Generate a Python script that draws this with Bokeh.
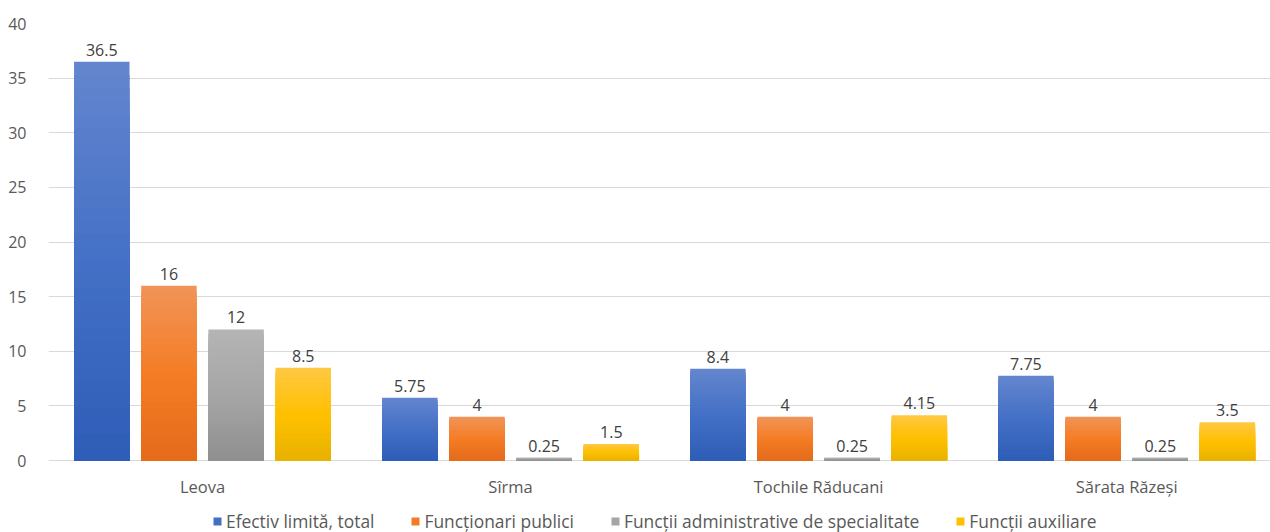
from bokeh.plotting import figure
from bokeh.models import ColumnDataSource, Range1d, FixedTicker, Legend, LegendItem, LabelSet
from bokeh.core.properties import value
from bokeh.embed import file_html
from bokeh.resources import INLINE

categories = ["Leova", "Sîrma", "Tochile Răducani", "Sărata Răzeși"]
series_names = ["Efectiv limită, total", "Funcționari publici",
                "Funcții administrative de specialitate", "Funcții auxiliare"]
efectiv = [36.5, 5.75, 8.4, 7.75]
functionari = [16, 4, 4, 4]
administrative = [12, 0.25, 0.25, 0.25]
auxiliare = [8.5, 1.5, 4.15, 3.5]
labels_text = [["36.5", "5.75", "8.4", "7.75"],
               ["16", "4", "4", "4"],
               ["12", "0.25", "0.25", "0.25"],
               ["8.5", "1.5", "4.15", "3.5"]]
y_ticks = [0, 5, 10, 15, 20, 25, 30, 35, 40]

series_values = [efectiv, functionari, administrative, auxiliare]
# gradient stops (top, middle, bottom) per series
grad_stops = [("#6486CE", "#4470C6", "#2E5DB7"),
              ("#F19459", "#F47D25", "#E46B1A"),
              ("#B4B4B4", "#A6A6A6", "#8F8F8F"),
              ("#FFC844", "#FFC000", "#E8B200")]
offsets = [-0.327, -0.109, 0.109, 0.327]
bar_w = 0.18
N_LEVELS = 30

FONT = "Open Sans"


def hex2rgb(h):
    h = h.lstrip("#")
    return [int(h[i:i + 2], 16) for i in (0, 2, 4)]


def mix(c1, c2, t):
    a, b = hex2rgb(c1), hex2rgb(c2)
    return "#%02x%02x%02x" % tuple(int(round(a[i] + (b[i] - a[i]) * t)) for i in range(3))


def grad_color(stops, frac):
    top, mid, bot = stops
    if frac >= 0.5:
        return mix(mid, top, (frac - 0.5) / 0.5)
    return mix(bot, mid, frac / 0.5)


# frame spans from y=23 px to the bottom of the page; value 0 sits at 460 px
px_per_unit = 437 / 40.0
y_bottom = -(532 - 460) / px_per_unit

p = figure(frame_width=1222, frame_height=509, width=1270, height=532,
           x_range=Range1d(-0.5, 3.467), y_range=Range1d(y_bottom, 40),
           output_backend="svg", toolbar_location=None, x_axis_location=None,
           min_border_left=48, min_border_right=0, min_border_top=23, min_border_bottom=0)
p.outline_line_color = None
p.background_fill_color = "white"

p.xgrid.grid_line_color = None
p.ygrid.grid_line_color = "#D9D9D9"
p.ygrid.ticker = FixedTicker(ticks=y_ticks)

items = []
mid_level = N_LEVELS // 2
for vals, stops, off, name, lab in zip(series_values, grad_stops,
                                       offsets, series_names, labels_text):
    xs = [i + off for i in range(len(categories))]
    # gradient: nested bars, tallest (lightest) first
    gx, gtop, gcol = [], [], []
    legend_index = 0
    for k in range(N_LEVELS, 0, -1):
        frac = (k - 0.5) / N_LEVELS
        c = grad_color(stops, frac)
        if k == mid_level:
            legend_index = len(gx)
        for x, v in zip(xs, vals):
            gx.append(x)
            gtop.append(v * k / N_LEVELS)
            gcol.append(c)
    r = p.vbar(x="x", top="top", width=bar_w, bottom=0,
               source=ColumnDataSource(dict(x=gx, top=gtop, c=gcol)),
               fill_color="c", line_color=None)
    items.append(LegendItem(label=name, renderers=[r], index=legend_index))
    src = ColumnDataSource(dict(x=xs, top=vals, lab=lab))
    p.add_layout(LabelSet(x="x", y="top", text="lab", source=src, text_align="center",
                          text_baseline="bottom", y_offset=6, text_font=value(FONT),
                          text_font_size="16px", text_color="#404040"))

# category labels under the zero line
cat_src = ColumnDataSource(dict(x=list(range(len(categories))), y=[0] * len(categories),
                                lab=categories))
p.add_layout(LabelSet(x="x", y="y", text="lab", source=cat_src, text_align="center",
                      text_baseline="middle", y_offset=-26, text_font=value(FONT),
                      text_font_size="16.5px", text_color="#595959"))

p.yaxis.ticker = FixedTicker(ticks=y_ticks)
p.yaxis.axis_line_color = None
p.yaxis.major_tick_line_color = None
p.yaxis.minor_tick_line_color = None
p.yaxis.major_label_text_font = FONT
p.yaxis.major_label_text_font_size = "16px"
p.yaxis.major_label_text_color = "#595959"
p.yaxis.major_label_standoff = 16

legend = Legend(items=items, orientation="horizontal", location=(164, -1),
                label_text_font=FONT, label_text_font_size="17.4px",
                label_text_color="#595959", glyph_width=10, glyph_height=10,
                label_standoff=4, spacing=36, border_line_color=None,
                background_fill_alpha=0,
                padding=0, margin=0, label_height=17)
p.add_layout(legend, "center")

open("out.html", "w").write(file_html(p, INLINE))
